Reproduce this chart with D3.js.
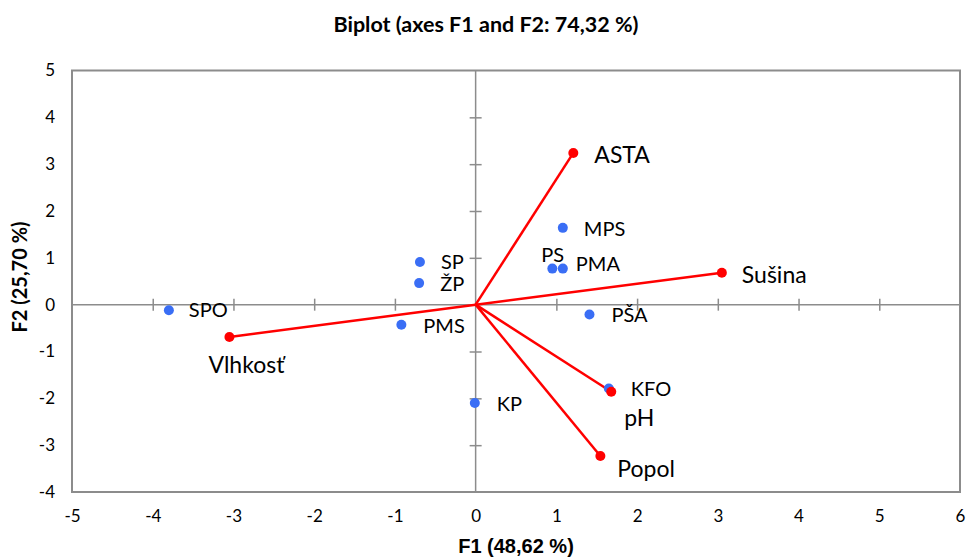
<!DOCTYPE html>
<html><head><meta charset="utf-8">
<script src="https://cdn.jsdelivr.net/npm/d3@7/dist/d3.min.js"></script>
<style>body{margin:0;background:#fff}svg{display:block}</style>
</head><body>
<svg id="c" width="967" height="559"></svg>
<script>
// ---- data ----
const obsNames = ["SPO","SP","ŽP","PMS","KP","PS","PMA","MPS","PŠA","KFO"];
const obsF1 = [-3.80,-0.69,-0.70,-0.92,-0.01,0.95,1.08,1.08,1.41,1.65];
const obsF2 = [-0.12,0.91,0.46,-0.43,-2.10,0.77,0.77,1.64,-0.21,-1.79];
const varNames = ["ASTA","Sušina","Vlhkosť","pH","Popol"];
const varF1 = [1.21,3.05,-3.05,1.68,1.545];
const varF2 = [3.24,0.68,-0.69,-1.86,-3.23];
const xTicks = [-5,-4,-3,-2,-1,0,1,2,3,4,5,6];
const yTicks = [-4,-3,-2,-1,0,1,2,3,4,5];
const title = "Biplot (axes F1 and F2: 74,32 %)";
const xTitle = "F1 (48,62 %)";
const yTitle = "F2 (25,70 %)";

// ---- layout (label offsets in px) ----
const obsLabelOff = [[20,7],[21,7],[21,8],[22,8],[22,8],[-11,-7],[13,2],[21,8],[22,7],[22,8]];
const varLabelOff = [[21,10],[20,10],[-21,36],[13,34],[17,21]];

const svg = d3.select("#c");
const font = "Lato, 'Open Sans', sans-serif";
const L=72, R=960, T=70.5, B=492;
const x = d3.scaleLinear().domain([-5,6]).range([L,R]);
const y = d3.scaleLinear().domain([-4,5]).range([B,T]);
const grey = "#8c8c8c";

// frame
svg.append("rect").attr("x",L).attr("y",T).attr("width",R-L).attr("height",B-T)
  .attr("fill","none").attr("stroke",grey).attr("stroke-width",2);

// central axes
svg.append("line").attr("x1",L).attr("x2",R).attr("y1",y(0)).attr("y2",y(0)).attr("stroke",grey).attr("stroke-width",1.5);
svg.append("line").attr("x1",x(0)).attr("x2",x(0)).attr("y1",T).attr("y2",B).attr("stroke",grey).attr("stroke-width",1.5);

// cross ticks on central axes
const xAxisG = svg.append("g").attr("transform",`translate(0,${y(0)-6})`)
  .call(d3.axisBottom(x).tickValues(xTicks.filter(d=>d>-5&&d<6&&d!==0)).tickSize(12).tickFormat(""));
const yAxisG = svg.append("g").attr("transform",`translate(${x(0)+6},0)`)
  .call(d3.axisLeft(y).tickValues(yTicks.filter(d=>d>-4&&d<5&&d!==0)).tickSize(12).tickFormat(""));
[xAxisG,yAxisG].forEach(g=>{g.select(".domain").remove();g.selectAll("line").attr("stroke",grey).attr("stroke-width",1.5);});

// tick labels
const xl = svg.append("g").attr("transform",`translate(0,${B})`)
  .call(d3.axisBottom(x).tickValues(xTicks).tickSize(0).tickPadding(18).tickFormat(d=>d));
const yl = svg.append("g").attr("transform",`translate(${L},0)`)
  .call(d3.axisLeft(y).tickValues(yTicks).tickSize(0).tickPadding(17).tickFormat(d=>d));
[xl,yl].forEach(g=>{g.select(".domain").remove();g.selectAll("text").attr("font-family",font).attr("font-size",17).attr("fill","#000");});

// vectors
svg.append("g").selectAll("line").data(varNames).join("line")
  .attr("x1",x(0)).attr("y1",y(0))
  .attr("x2",(d,i)=>x(varF1[i])).attr("y2",(d,i)=>y(varF2[i]))
  .attr("stroke","#ff0000").attr("stroke-width",2.5);

// observations
svg.append("g").selectAll("circle").data(obsNames).join("circle")
  .attr("cx",(d,i)=>x(obsF1[i])).attr("cy",(d,i)=>y(obsF2[i])).attr("r",5)
  .attr("fill","#3a6ef5");
svg.append("g").selectAll("text").data(obsNames).join("text")
  .attr("x",(d,i)=>x(obsF1[i])+obsLabelOff[i][0]).attr("y",(d,i)=>y(obsF2[i])+obsLabelOff[i][1])
  .attr("font-family",font).attr("font-size",20).attr("fill","#000").text(d=>d);

// variable end points
svg.append("g").selectAll("circle").data(varNames).join("circle")
  .attr("cx",(d,i)=>x(varF1[i])).attr("cy",(d,i)=>y(varF2[i])).attr("r",5)
  .attr("fill","#ff0000");
svg.append("g").selectAll("text").data(varNames).join("text")
  .attr("x",(d,i)=>x(varF1[i])+varLabelOff[i][0]).attr("y",(d,i)=>y(varF2[i])+varLabelOff[i][1])
  .attr("font-family",font).attr("font-size",23).attr("fill","#000").text(d=>d);

// titles
svg.append("text").attr("x",486).attr("y",32).attr("text-anchor","middle")
  .attr("font-family",font).attr("font-weight","bold").attr("font-size",21.5).text(title);
svg.append("text").attr("x",(L+R)/2).attr("y",553).attr("text-anchor","middle")
  .attr("font-family","'Liberation Sans', Arial, sans-serif").attr("font-weight","bold").attr("font-size",20).text(xTitle);
svg.append("text").attr("transform",`translate(27,277) rotate(-90)`).attr("text-anchor","middle")
  .attr("font-family",font).attr("font-weight","bold").attr("font-size",20).text(yTitle);
</script>
</body></html>
